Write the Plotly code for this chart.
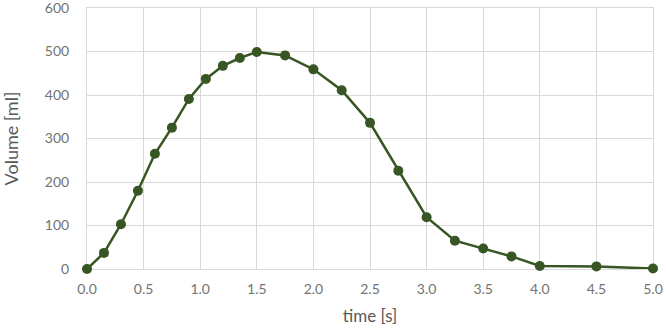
import plotly.graph_objects as go

time_s = [0.0, 0.15, 0.3, 0.45, 0.6, 0.75, 0.9, 1.05, 1.2, 1.35, 1.5, 1.75,
          2.0, 2.25, 2.5, 2.75, 3.0, 3.25, 3.5, 3.75, 4.0, 4.5, 5.0]
volume_ml = [0, 37, 103, 180, 265, 325, 391, 437, 467, 485, 499, 491,
             459, 411, 336, 226, 119, 65, 47, 29, 7, 6, 1]
x_ticks = [0.0, 0.5, 1.0, 1.5, 2.0, 2.5, 3.0, 3.5, 4.0, 4.5, 5.0]
y_ticks = [0, 100, 200, 300, 400, 500, 600]

green = "#375623"
grid = "#d9d9d9"
tick_txt = "#737373"
title_txt = "#595959"
font = "Lato, 'Open Sans', sans-serif"

fig = go.Figure(go.Scatter(
    x=time_s, y=volume_ml, mode="lines+markers",
    line=dict(color=green, width=2.5),
    marker=dict(color=green, size=10),
    showlegend=False, cliponaxis=False,
))

fig.update_layout(
    width=666, height=330,
    margin=dict(l=87, r=13, t=8, b=61, autoexpand=False),
    paper_bgcolor="white", plot_bgcolor="white",
    font=dict(family=font, color=tick_txt, size=14),
    xaxis=dict(
        range=[0, 5], tickvals=x_ticks, ticktext=[f"{v:.1f}" for v in x_ticks],
        showgrid=True, gridcolor=grid, gridwidth=1,
        showline=True, linecolor=grid, linewidth=1, mirror=True,
        zeroline=False, ticks="", ticklabelstandoff=7,
        ticklabeloverflow="allow", automargin=False,
        title=dict(text="time [s]", font=dict(size=17, color=title_txt), standoff=14),
    ),
    yaxis=dict(
        range=[0, 600], tickvals=y_ticks,
        showgrid=True, gridcolor=grid, gridwidth=1,
        showline=True, linecolor=grid, linewidth=1, mirror=True,
        zeroline=False, ticks="", ticklabelstandoff=14,
        ticklabeloverflow="allow", automargin=False,
        title=dict(text="Volume [ml]", font=dict(size=18, color=title_txt), standoff=30),
    ),
)
fig.update_xaxes(layer="below traces")
fig.update_yaxes(layer="below traces")

fig.write_html("out.html")
